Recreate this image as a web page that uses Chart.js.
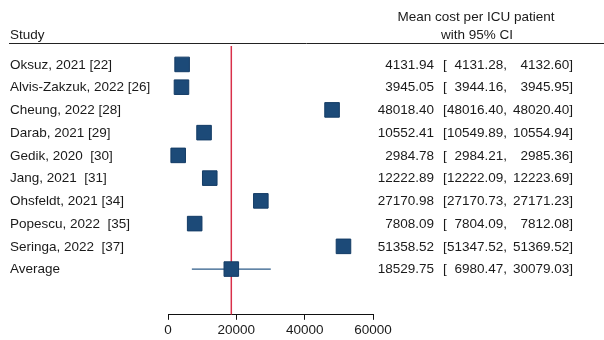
<!DOCTYPE html>
<html>
<head>
<meta charset="utf-8">
<script src="https://cdn.jsdelivr.net/npm/chart.js@4"></script>
<style>
  html, body { margin: 0; padding: 0; background: #fff; }
  #wrap { width: 604px; height: 340px; position: relative; }
</style>
</head>
<body>
<div id="wrap"><canvas id="forest"></canvas></div>
<script>
// Dados do forest plot
const studies = ['Oksuz, 2021 [22]', 'Alvis-Zakzuk, 2022 [26]', 'Cheung, 2022 [28]', 'Darab, 2021 [29]',
    'Gedik, 2020  [30]', 'Jang, 2021  [31]', 'Ohsfeldt, 2021 [34]', 'Popescu, 2022  [35]', 'Seringa, 2022  [37]', 'Average'];
const means = [4131.94, 3945.05, 48018.40, 10552.41, 2984.78, 12222.89, 27170.98, 7808.09, 51358.52, 18529.75];
const lowers = [4131.28, 3944.16, 48016.40, 10549.89, 2984.21, 12222.09, 27170.73, 7804.09, 51347.52, 6980.47];
const uppers = [4132.60, 3945.95, 48020.40, 10554.94, 2985.36, 12223.69, 27171.23, 7812.08, 51369.52, 30079.03];
const xTicks = [0, 20000, 40000, 60000];

const avgIndex = studies.length - 1;
const yMin = -0.81;
const yMax = 11.01;
const font = '13.5px "Liberation Sans", Arial, sans-serif';
const textColor = '#1a1a1a';

// Colunas de texto e cabeÃ§alho
const tablePlugin = {
    id: 'tablePlugin',
    afterDraw(chart) {
        const ctx = chart.ctx;
        const y = chart.scales.y;
        ctx.save();
        ctx.font = font;
        ctx.fillStyle = textColor;
        ctx.textBaseline = 'middle';

        // cabeÃ§alho
        ctx.textAlign = 'left';
        ctx.fillText('Study', 10, 35);
        ctx.textAlign = 'center';
        ctx.fillText('Mean cost per ICU patient', 476, 17);
        ctx.fillText('with 95% CI', 477, 35);

        ctx.strokeStyle = '#222';
        ctx.lineWidth = 1;
        ctx.beginPath();
        ctx.moveTo(9, 43.5);
        ctx.lineTo(604, 43.5);
        ctx.stroke();

        studies.forEach((name, i) => {
            const py = y.getPixelForValue(i) + 0.5;
            ctx.textAlign = 'left';
            ctx.fillText(name, 10, py);
            ctx.textAlign = 'right';
            ctx.fillText(means[i].toFixed(2), 434, py);
            ctx.textAlign = 'left';
            ctx.fillText('[', 443, py);
            ctx.textAlign = 'right';
            ctx.fillText(lowers[i].toFixed(2) + ',', 507, py);
            ctx.fillText(uppers[i].toFixed(2) + ']', 573, py);
        });
        ctx.restore();
    }
};

const ctx = document.getElementById('forest').getContext('2d');
const forestChart = new Chart(ctx, {
    type: 'scatter',
    data: {
        datasets: [
            {
                label: 'Estimates',
                data: means.map((m, i) => ({ x: m, y: i })),
                pointStyle: 'rect',
                pointRadius: 10.3,
                pointHoverRadius: 10.3,
                backgroundColor: '#1c4a78',
                borderColor: '#143c66',
                borderWidth: 1,
                order: 0
            },
            {
                label: 'CI',
                type: 'line',
                data: [{ x: lowers[avgIndex], y: avgIndex }, { x: uppers[avgIndex], y: avgIndex }],
                borderColor: '#2d5b88',
                borderWidth: 1.2,
                pointRadius: 0,
                fill: false,
                order: 1
            },
            {
                label: 'Average line',
                type: 'line',
                data: [{ x: means[avgIndex], y: yMin }, { x: means[avgIndex], y: yMax }],
                borderColor: '#d9304a',
                borderWidth: 1.5,
                pointRadius: 0,
                fill: false,
                order: 2
            }
        ]
    },
    options: {
        responsive: true,
        maintainAspectRatio: false,
        animation: false,
        layout: {
            padding: { left: 168, right: 231, top: 46, bottom: 0 }
        },
        plugins: {
            legend: { display: false },
            tooltip: { enabled: false }
        },
        scales: {
            x: {
                type: 'linear',
                min: 0,
                max: 60000,
                afterBuildTicks: (scale) => {
                    scale.ticks = xTicks.map(v => ({ value: v }));
                },
                grid: {
                    drawOnChartArea: false,
                    drawTicks: true,
                    tickLength: 5,
                    color: '#111'
                },
                border: { display: true, color: '#111', width: 1 },
                ticks: {
                    color: textColor,
                    padding: 2,
                    maxRotation: 0,
                    font: { family: '"Liberation Sans", Arial, sans-serif', size: 13.5 },
                    callback: function(value) {
                        return String(value);
                    }
                }
            },
            y: {
                type: 'linear',
                display: false,
                reverse: true,
                min: yMin,
                max: yMax
            }
        }
    },
    plugins: [tablePlugin]
});
</script>
</body>
</html>
